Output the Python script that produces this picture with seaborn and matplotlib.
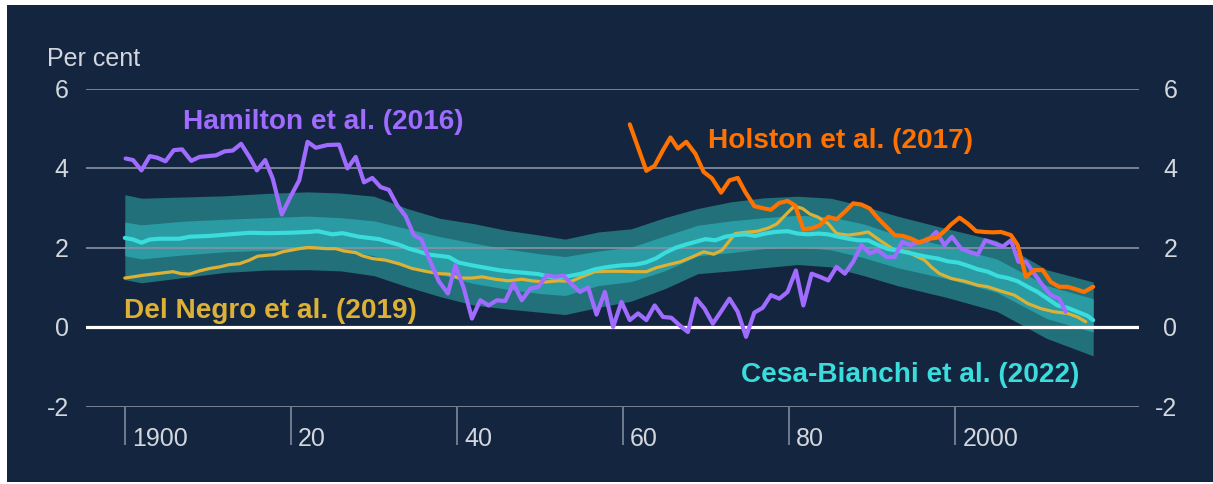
import matplotlib
matplotlib.use("Agg")
import matplotlib.pyplot as plt
import matplotlib.patches as mpatches
from matplotlib.transforms import offset_copy, blended_transform_factory
import numpy as np
import pandas as pd
import seaborn as sns

# ---------------- data ----------------
hamilton_years = [1900.1, 1901.0, 1902.0, 1903.0, 1903.9, 1904.9, 1905.9, 1906.9, 1908.0, 1909.0,
                  1910.0, 1911.0, 1912.0, 1913.0, 1914.0, 1915.0, 1915.9, 1916.9, 1917.8, 1918.9,
                  1920.0, 1921.0, 1922.0, 1923.0, 1924.4, 1925.8, 1926.8, 1927.8, 1928.8, 1929.8,
                  1930.8, 1931.8, 1932.8, 1933.8, 1934.8, 1935.7, 1936.7, 1937.8, 1938.9, 1939.8,
                  1940.8, 1941.8, 1942.8, 1943.8, 1944.8, 1945.8, 1946.8, 1947.8, 1948.8, 1949.8,
                  1950.8, 1951.8, 1952.8, 1953.8, 1954.8, 1955.8, 1956.8, 1957.8, 1958.8, 1959.8,
                  1960.8, 1961.8, 1962.8, 1963.8, 1964.8, 1965.8, 1966.8, 1967.8, 1968.8, 1969.8,
                  1970.8, 1971.8, 1972.8, 1973.8, 1974.8, 1975.8, 1976.8, 1977.8, 1978.8, 1979.8,
                  1980.8, 1981.7, 1982.7, 1983.7, 1984.7, 1985.7, 1986.7, 1987.7, 1988.7, 1989.7,
                  1990.7, 1991.7, 1992.7, 1993.6, 1994.6, 1995.7, 1996.7, 1997.7, 1998.7, 1999.6,
                  2000.7, 2001.7, 2002.7, 2003.6, 2004.7, 2005.7, 2006.7, 2007.6, 2008.5, 2009.5,
                  2010.5, 2011.5, 2012.5, 2013.3]
hamilton_values = [4.25, 4.21, 3.95, 4.31, 4.27, 4.18, 4.46, 4.48, 4.19, 4.29,
                   4.31, 4.33, 4.43, 4.45, 4.62, 4.29, 3.95, 4.21, 3.75, 2.84,
                   3.31, 3.70, 4.67, 4.52, 4.59, 4.60, 4.00, 4.29, 3.65, 3.76,
                   3.53, 3.46, 3.07, 2.80, 2.32, 2.22, 1.70, 1.16, 0.85, 1.56,
                   0.99, 0.22, 0.68, 0.55, 0.68, 0.66, 1.10, 0.68, 0.97, 1.02,
                   1.31, 1.27, 1.30, 1.08, 0.89, 1.00, 0.32, 0.89, 0.01, 0.64,
                   0.18, 0.35, 0.18, 0.55, 0.26, 0.24, 0.05, -0.12, 0.72, 0.47,
                   0.09, 0.40, 0.72, 0.39, -0.24, 0.37, 0.49, 0.81, 0.72, 0.89,
                   1.43, 0.55, 1.35, 1.27, 1.18, 1.52, 1.35, 1.65, 2.07, 1.86,
                   1.94, 1.77, 1.77, 2.15, 2.07, 2.15, 2.19, 2.40, 2.07, 2.28,
                   1.98, 1.90, 1.83, 2.19, 2.11, 2.03, 2.19, 1.65, 1.65, 1.35,
                   1.06, 0.81, 0.72, 0.39]

holston_years = [1960.8, 1962.8, 1963.8, 1964.8, 1965.7, 1966.6, 1967.6, 1968.7, 1969.7, 1970.7,
                 1971.8, 1972.8, 1973.8, 1974.7, 1975.8, 1976.8, 1977.8, 1978.8, 1979.8, 1980.7,
                 1981.7, 1982.7, 1983.7, 1984.7, 1985.7, 1986.7, 1987.7, 1988.7, 1989.7, 1990.7,
                 1991.7, 1992.7, 1993.7, 1994.7, 1995.7, 1996.7, 1997.7, 1998.7, 1999.5, 2000.5,
                 2001.5, 2002.5, 2003.5, 2004.5, 2005.5, 2006.7, 2007.5, 2008.5, 2009.5, 2010.5,
                 2011.5, 2012.5, 2013.5, 2014.5, 2015.5, 2016.6]
holston_values = [5.11, 3.94, 4.07, 4.46, 4.78, 4.50, 4.67, 4.37, 3.91, 3.75,
                  3.39, 3.70, 3.76, 3.41, 3.05, 3.00, 2.96, 3.13, 3.18, 3.07,
                  2.47, 2.49, 2.57, 2.78, 2.72, 2.91, 3.12, 3.09, 2.99, 2.74,
                  2.53, 2.32, 2.30, 2.23, 2.13, 2.23, 2.25, 2.42, 2.59, 2.76,
                  2.61, 2.42, 2.40, 2.39, 2.40, 2.32, 2.07, 1.27, 1.44, 1.44,
                  1.14, 1.02, 1.02, 0.96, 0.89, 1.02]

delnegro_years = [1900, 1901, 1902.2, 1903.4, 1904.6, 1905.8, 1906.8, 1907.8, 1909, 1910.2,
                  1911.4, 1912.6, 1913.8, 1915, 1916, 1917, 1918, 1919, 1920, 1921,
                  1922, 1923, 1924.2, 1925.4, 1926.4, 1927.8, 1928.6, 1929.8, 1931.4, 1933,
                  1934.6, 1936.2, 1937.8, 1939, 1940.2, 1941.8, 1943, 1944.6, 1946.2, 1947.8,
                  1949, 1950.6, 1952.2, 1953.8, 1955, 1956.6, 1958.2, 1959.8, 1961.5, 1962.8,
                  1964, 1965.5, 1966.9, 1968.3, 1969.7, 1970.9, 1971.9, 1972.7, 1973.5, 1974.7,
                  1976.2, 1977.5, 1978.5, 1979.6, 1980.6, 1981.6, 1982.5, 1983.4, 1984.7, 1985.7,
                  1987.1, 1988.5, 1989.5, 1990.9, 1992.7, 1994.3, 1995.1, 1996.3, 1997.1, 1998.1,
                  1999.5, 2001.1, 2002.7, 2003.9, 2005.5, 2007.1, 2008.7, 2010.3, 2011.9, 2013.5,
                  2014.7, 2015.7]
delnegro_values = [1.24, 1.27, 1.31, 1.34, 1.37, 1.40, 1.35, 1.34, 1.42, 1.48,
                   1.52, 1.58, 1.60, 1.69, 1.79, 1.81, 1.83, 1.90, 1.94, 1.98,
                   2.01, 2.00, 1.98, 1.98, 1.92, 1.88, 1.80, 1.73, 1.69, 1.60,
                   1.48, 1.41, 1.35, 1.34, 1.24, 1.24, 1.27, 1.21, 1.17, 1.21,
                   1.17, 1.14, 1.17, 1.16, 1.27, 1.40, 1.41, 1.41, 1.40, 1.40,
                   1.50, 1.58, 1.65, 1.77, 1.90, 1.84, 1.94, 2.15, 2.36, 2.39,
                   2.42, 2.50, 2.60, 2.84, 3.05, 2.99, 2.85, 2.78, 2.61, 2.36,
                   2.32, 2.36, 2.40, 2.19, 1.94, 1.90, 1.81, 1.69, 1.52, 1.35,
                   1.23, 1.16, 1.06, 1.02, 0.91, 0.81, 0.60, 0.47, 0.39, 0.35,
                   0.26, 0.14]

cesa_years = [1900, 1901, 1902, 1903, 1904.2, 1906.6, 1907.8, 1910.2, 1912.6, 1915,
              1917.4, 1919.8, 1922.2, 1923.2, 1925, 1926.2, 1928.2, 1930.6, 1931.8, 1933,
              1934.2, 1935.4, 1936.6, 1939, 1940.2, 1941.8, 1943.4, 1945, 1946.6, 1948.2,
              1949.8, 1951.4, 1953, 1955, 1956.6, 1958.2, 1959.8, 1961.5, 1962.7, 1963.9,
              1965.1, 1966.3, 1967.5, 1968.7, 1969.9, 1971.1, 1972.3, 1973.5, 1974.7, 1975.9,
              1977.1, 1978.3, 1979.8, 1981, 1982.3, 1983.5, 1984.7, 1985.9, 1987.1, 1988.3,
              1989.5, 1990.7, 1991.9, 1993.1, 1994.3, 1995.5, 1996.7, 1997.9, 1999.1, 2000.3,
              2001.5, 2002.7, 2003.9, 2005.1, 2006.3, 2007.5, 2008.7, 2009.9, 2011.1, 2012.3,
              2013.5, 2014.7, 2015.9, 2016.6]
cesa_median = [2.25, 2.21, 2.13, 2.21, 2.23, 2.23, 2.28, 2.30, 2.34, 2.38,
               2.37, 2.38, 2.40, 2.42, 2.34, 2.37, 2.28, 2.22, 2.15, 2.08,
               1.98, 1.91, 1.83, 1.77, 1.63, 1.56, 1.50, 1.44, 1.40, 1.37,
               1.34, 1.25, 1.27, 1.35, 1.46, 1.52, 1.56, 1.58, 1.63, 1.73,
               1.88, 2.00, 2.08, 2.15, 2.22, 2.19, 2.28, 2.32, 2.34, 2.30,
               2.36, 2.40, 2.42, 2.36, 2.34, 2.36, 2.34, 2.28, 2.23, 2.19,
               2.19, 2.07, 1.97, 1.93, 1.88, 1.82, 1.77, 1.73, 1.66, 1.63,
               1.55, 1.46, 1.40, 1.29, 1.24, 1.16, 1.02, 0.89, 0.72, 0.55,
               0.49, 0.39, 0.29, 0.18]

band_years = [1900, 1902, 1907, 1912, 1917, 1922, 1926, 1930, 1934, 1938,
              1942, 1946, 1950, 1953, 1957, 1961, 1965, 1969, 1973, 1977,
              1981, 1985, 1989, 1993, 1999, 2005, 2011, 2016.6]
outer_lo = [1.20, 1.12, 1.25, 1.38, 1.44, 1.45, 1.42, 1.30, 1.02, 0.77,
            0.56, 0.46, 0.38, 0.32, 0.50, 0.66, 0.97, 1.35, 1.42, 1.50,
            1.58, 1.52, 1.30, 1.05, 0.75, 0.40, -0.28, -0.72]
inner_lo = [1.80, 1.72, 1.82, 1.90, 1.94, 1.97, 1.96, 1.80, 1.55, 1.33,
            1.10, 0.96, 0.85, 0.80, 1.05, 1.15, 1.42, 1.80, 1.88, 1.98,
            2.02, 1.95, 1.75, 1.50, 1.22, 0.88, 0.22, -0.12]
inner_hi = [2.65, 2.58, 2.67, 2.72, 2.76, 2.80, 2.76, 2.68, 2.48, 2.28,
            2.12, 1.97, 1.85, 1.78, 1.92, 2.02, 2.30, 2.57, 2.68, 2.76,
            2.82, 2.78, 2.60, 2.32, 2.05, 1.72, 1.05, 0.72]
outer_hi = [3.34, 3.25, 3.28, 3.31, 3.37, 3.41, 3.38, 3.30, 2.99, 2.74,
            2.61, 2.44, 2.32, 2.22, 2.40, 2.48, 2.76, 2.99, 3.16, 3.26,
            3.30, 3.25, 3.05, 2.80, 2.48, 2.18, 1.45, 1.14]

y_ticks = [-2, 0, 2, 4, 6]
y_tick_labels = ["-2", "0", "2", "4", "6"]
x_ticks = [1900, 1920, 1940, 1960, 1980, 2000]
x_tick_labels = ["1900", "20", "40", "60", "80", "2000"]

series_labels = ["Hamilton et al. (2016)", "Holston et al. (2017)",
                 "Del Negro et al. (2019)", "Cesa-Bianchi et al. (2022)"]

# ---------------- style ----------------
NAVY = "#14263F"
GRID = "#8893A3"
TXT = "#D3D7DD"
PURPLE = "#A06CFF"
ORANGE = "#FF7200"
GOLD = "#DDB036"
CYAN = "#3ADCDC"
OUTER = "#22707A"
INNER = "#2A9AA3"

sns.set_style("white")
plt.rcParams["font.family"] = ["Liberation Sans", "DejaVu Sans"]

W, H, DPI = 1213, 485, 100
fig = plt.figure(figsize=(W / DPI, H / DPI), dpi=DPI, facecolor="white")
# navy panel behind everything
bg = mpatches.Rectangle((7 / W, 2 / H), 1 - 7 / W, (483 - 6) / H,
                        transform=fig.transFigure, facecolor=NAVY,
                        edgecolor="none", zorder=-10)
fig.patches.append(bg)

ax_l, ax_r = 85.7 / W, 1138.7 / W
ax_b, ax_t = (H - 407.7) / H, (H - 90.0) / H
ax = fig.add_axes([ax_l, ax_b, ax_r - ax_l, ax_t - ax_b])
ax.set_zorder(1)
ax.patch.set_visible(False)
ax.set_xlim(1895.29, 2022.08)
ax.set_ylim(-2, 6)
for s in ax.spines.values():
    s.set_visible(False)

# bands
ax.fill_between(band_years, outer_lo, outer_hi, color=OUTER, lw=0, zorder=1)
ax.fill_between(band_years, inner_lo, inner_hi, color=INNER, lw=0, zorder=1.1)

# grid lines
for yv in y_ticks:
    if yv == 0:
        ax.axhline(yv, color="white", lw=2.3, zorder=2)
    else:
        ax.axhline(yv, color=GRID, lw=1.2, zorder=2)

# series
df_dn = pd.DataFrame({"year": delnegro_years, "value": delnegro_values})
df_cb = pd.DataFrame({"year": cesa_years, "value": cesa_median})
df_ha = pd.DataFrame({"year": hamilton_years, "value": hamilton_values})
df_ho = pd.DataFrame({"year": holston_years, "value": holston_values})
sns.lineplot(data=df_dn, x="year", y="value", ax=ax, color=GOLD, lw=2.3, zorder=3, legend=False)
sns.lineplot(data=df_cb, x="year", y="value", ax=ax, color=CYAN, lw=3.0, zorder=4, legend=False)
sns.lineplot(data=df_ha, x="year", y="value", ax=ax, color=PURPLE, lw=3.0, zorder=5, legend=False)
sns.lineplot(data=df_ho, x="year", y="value", ax=ax, color=ORANGE, lw=3.0, zorder=6, legend=False)
for ln in ax.lines:
    ln.set_solid_joinstyle("round")

ax.set_xlabel("")
ax.set_ylabel("")

# x ticks: long lines below axis, labels to the right
ax.set_xticks(x_ticks)
ax.set_xticklabels([""] * len(x_ticks))
ax.tick_params(axis="x", bottom=True, length=27.5, width=1.1, color=GRID, direction="out")
ax.set_yticks([])

tx = blended_transform_factory(ax.transData, ax.transAxes)
for xv, lab in zip(x_ticks, x_tick_labels):
    ax.text(xv, 0, lab, transform=offset_copy(tx, fig, x=7, y=-38, units="dots"),
            ha="left", va="baseline", fontsize=18, color=TXT, clip_on=False)

ty_l = blended_transform_factory(ax.transAxes, ax.transData)
for yv, lab in zip(y_ticks, y_tick_labels):
    ax.text(0, yv, lab, transform=offset_copy(ty_l, fig, x=-17, y=-8, units="dots"),
            ha="right", va="baseline", fontsize=18, color=TXT, clip_on=False)
    ax.text(1, yv, lab, transform=offset_copy(ty_l, fig, x=38.5, y=-8, units="dots"),
            ha="right", va="baseline", fontsize=18, color=TXT, clip_on=False)

fig.text(46.7 / W, 1 - 65.7 / H, "Per cent", ha="left", va="baseline",
         fontsize=18, color=TXT)

# series labels
lab_kw = dict(fontsize=20.2, fontweight="bold", va="baseline", ha="left", clip_on=False)
ax.text(1907.0, 5.03, series_labels[0], color=PURPLE, **lab_kw)
ax.text(1970.2, 4.54, series_labels[1], color=ORANGE, **lab_kw)
ax.text(1899.9, 0.26, series_labels[2], color=GOLD, **lab_kw)
ax.text(1974.2, -1.36, series_labels[3], color=CYAN, **lab_kw)

fig.savefig("out.png", dpi=DPI, facecolor="white")
